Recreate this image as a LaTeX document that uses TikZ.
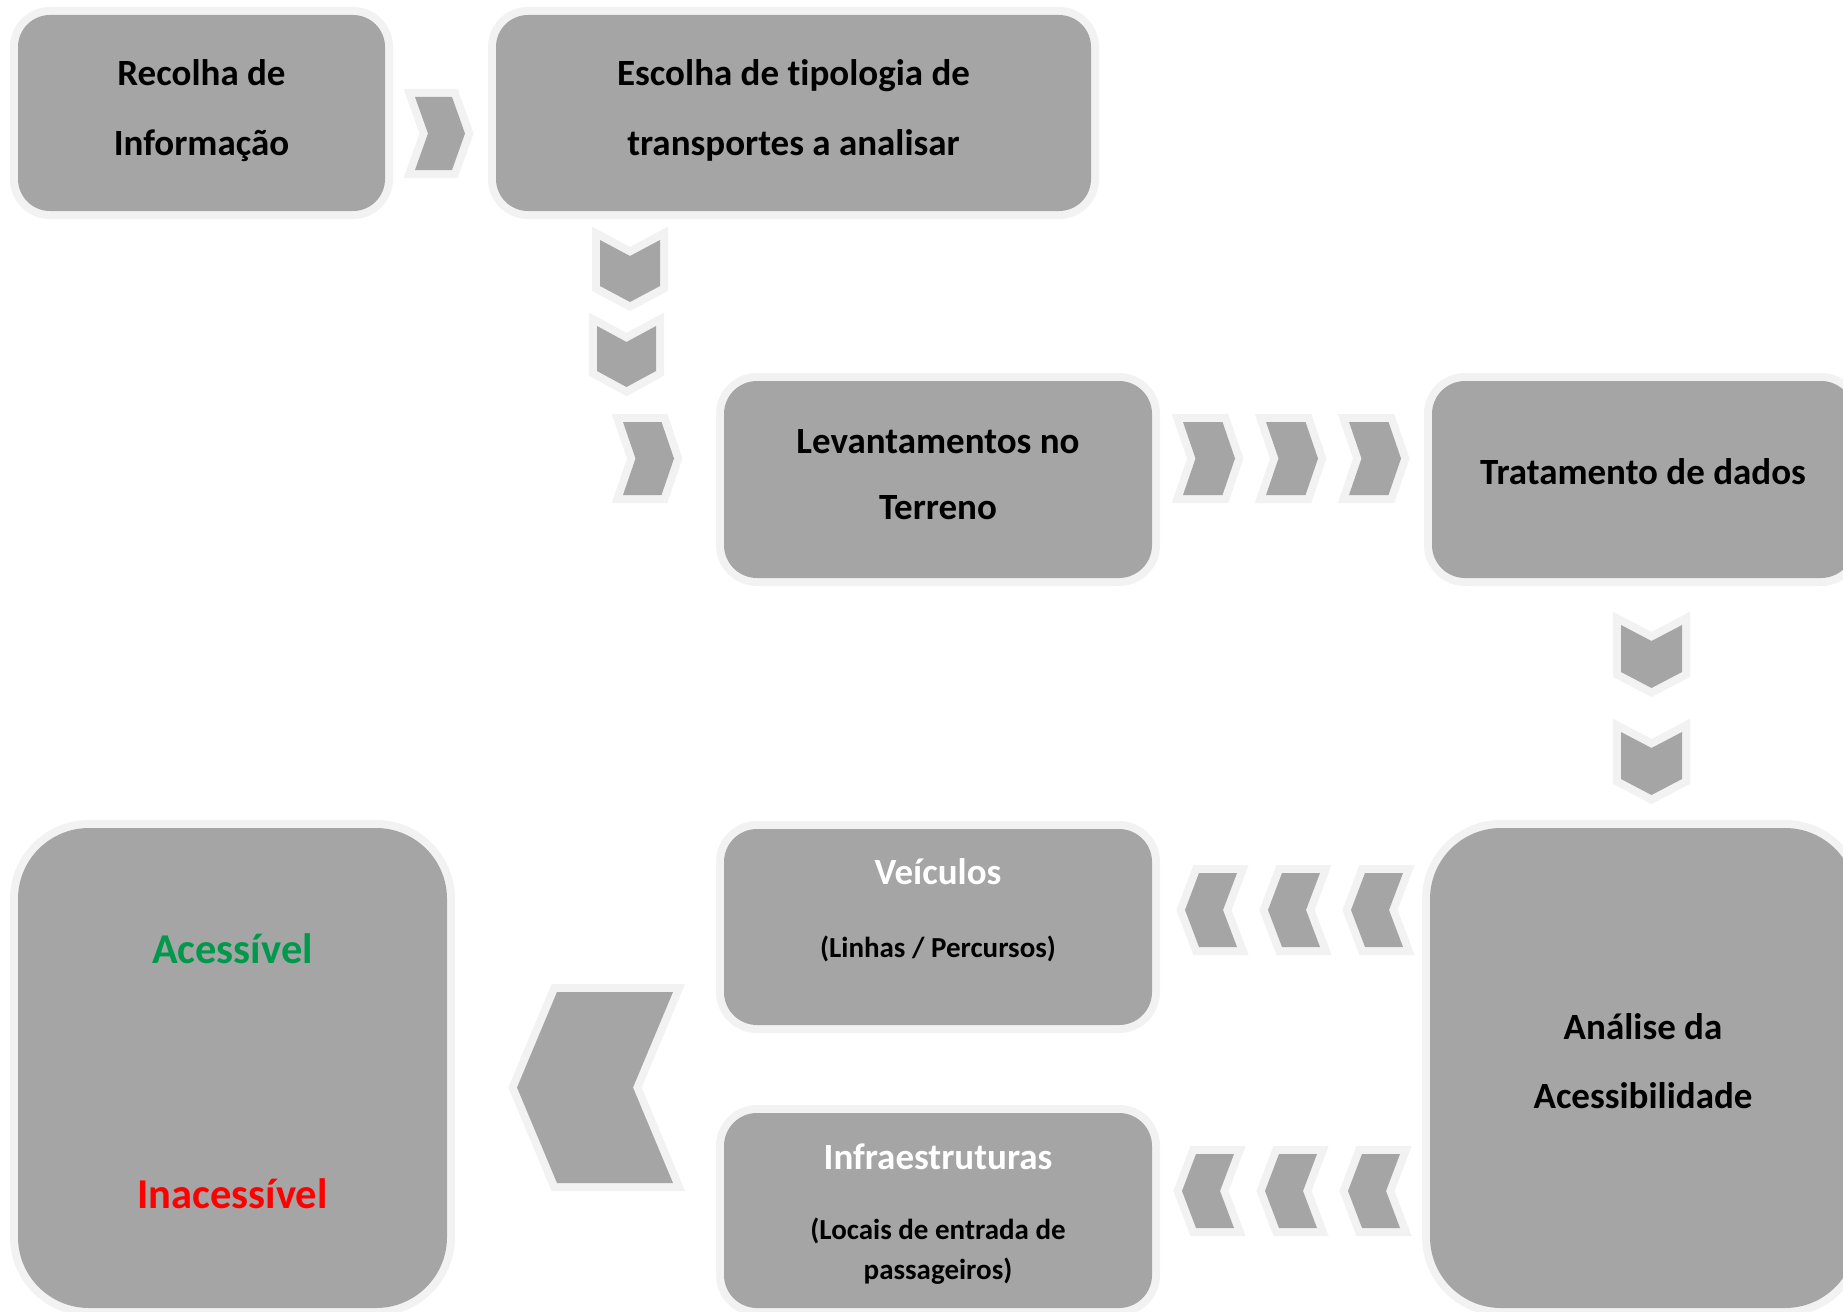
\documentclass[tikz,border=0pt]{standalone}
\usepackage{fontspec}
\setmainfont{Carlito}[Ligatures=NoCommon]
\definecolor{gfill}{HTML}{A5A5A5}
\definecolor{gborder}{HTML}{F2F2F2}
\definecolor{okgreen}{HTML}{00994C}
\definecolor{nored}{HTML}{FF0000}
\tikzset{
  box/.style={shape=rectangle, fill=gfill, inner sep=0pt, outer sep=0pt,
    preaction={draw=gborder, line width=16pt}},
  chev/.style={fill=gfill, preaction={draw=gborder, line width=16pt, line join=miter, miter limit=2}},
  lbl/.style={font=\bfseries\fontsize{37}{44}\selectfont, anchor=base, inner sep=0pt},
  sublbl/.style={font=\bfseries\fontsize{29}{35}\selectfont, anchor=base, inner sep=0pt},
  biglbl/.style={font=\bfseries\fontsize{42.5}{50}\selectfont, anchor=base, inner sep=0pt},
}
% right-pointing chevron: left x, top y, width, height, notch depth
\newcommand\mychevR[5]{\path[chev] (#1,#2) -- (#1+#3-#5,#2) -- (#1+#3,#2+#4/2) -- (#1+#3-#5,#2+#4) -- (#1,#2+#4) -- (#1+#5,#2+#4/2) -- cycle;}
% left-pointing chevron: tip x, top y, width, height, notch depth
\newcommand\mychevL[5]{\path[chev] (#1+#5,#2) -- (#1+#3,#2) -- (#1+#3-#5,#2+#4/2) -- (#1+#3,#2+#4) -- (#1+#5,#2+#4) -- (#1,#2+#4/2) -- cycle;}
% down-pointing chevron: left x, top y, width, height, notch depth
\newcommand\mychevD[5]{\path[chev] (#1,#2) -- (#1+#3/2,#2+#5) -- (#1+#3,#2) -- (#1+#3,#2+#4-#5) -- (#1+#3/2,#2+#4) -- (#1,#2+#4-#5) -- cycle;}
\begin{document}
\begin{tikzpicture}[x=1pt,y=-1pt]
\useasboundingbox[fill=white] (0,0) rectangle (1843,1311);

% boxes
\node[box, minimum width=367pt, minimum height=196pt, rounded corners=32pt] (b1) at (201.5,113) {};
\node[box, minimum width=595pt, minimum height=196pt, rounded corners=32pt] (b2) at (793.5,113) {};
\node[box, minimum width=428pt, minimum height=197pt, rounded corners=33pt] (b3) at (938,479.5) {};
\node[box, minimum width=422pt, minimum height=197pt, rounded corners=33pt] (b4) at (1643,479.5) {};
\node[box, minimum width=426pt, minimum height=480pt, rounded corners=71pt] (b5) at (1643,1068) {};
\node[box, minimum width=428pt, minimum height=196pt, rounded corners=33pt] (b6) at (938,927) {};
\node[box, minimum width=428pt, minimum height=195pt, rounded corners=33pt] (b7) at (938,1210.5) {};
\node[box, minimum width=429pt, minimum height=480pt, rounded corners=71pt] (b8) at (232.5,1068) {};

% chevrons
\mychevR{415}{97}{50}{73}{13}
\mychevD{600}{240}{60}{62}{16}
\mychevD{597}{326}{59}{61}{16}
\mychevR{623}{422}{51}{73}{12.5}
\mychevR{1183}{422}{52}{73}{12.5}
\mychevR{1266}{422}{52}{73}{12.5}
\mychevR{1349}{422}{52}{73}{12.5}
\mychevD{1621}{625}{61}{63}{16}
\mychevD{1621}{732}{61}{63}{16}
\mychevL{1185}{873}{52}{74}{14}
\mychevL{1268}{873}{52}{74}{14}
\mychevL{1351}{873}{52}{74}{14}
\mychevL{1182}{1154}{52}{74}{14}
\mychevL{1265}{1154}{52}{74}{14}
\mychevL{1348}{1154}{52}{74}{14}
\mychevL{517}{992}{156}{191}{40}

% texts
\node[lbl] (t1a) at (201.5,86) {Recolha de};
\node[lbl] (t1b) at (201.5,155) {Informação};
\node[lbl] (t2a) at (793.5,86) {Escolha de t\kern0pt ipologia de};
\node[lbl] (t2b) at (793.5,155) {transportes a analisar};
\node[lbl] (t3a) at (938,453) {Levantamentos no};
\node[lbl] (t3b) at (938,519) {Terreno};
\node[lbl] (t4) at (1643,484) {Tratamento de dados};
\node[lbl] (t5a) at (1643,1039) {Análise da};
\node[lbl] (t5b) at (1643,1108) {Acessibilidade};
\node[lbl, text=white] (t6a) at (938,884) {Veículos};
\node[sublbl] (t6b) at (938,957) {(Linhas / Percursos)};
\node[lbl, text=white] (t7a) at (938,1169) {Infraestruturas};
\node[sublbl] (t7b) at (938,1239) {(Locais de entrada de};
\node[sublbl] (t7c) at (938,1279) {passageiros)};
\node[biglbl, text=okgreen] (t8a) at (232.5,963) {Acessível};
\node[biglbl, text=nored] (t8b) at (232.5,1208) {Inacessível};
\end{tikzpicture}
\end{document}
